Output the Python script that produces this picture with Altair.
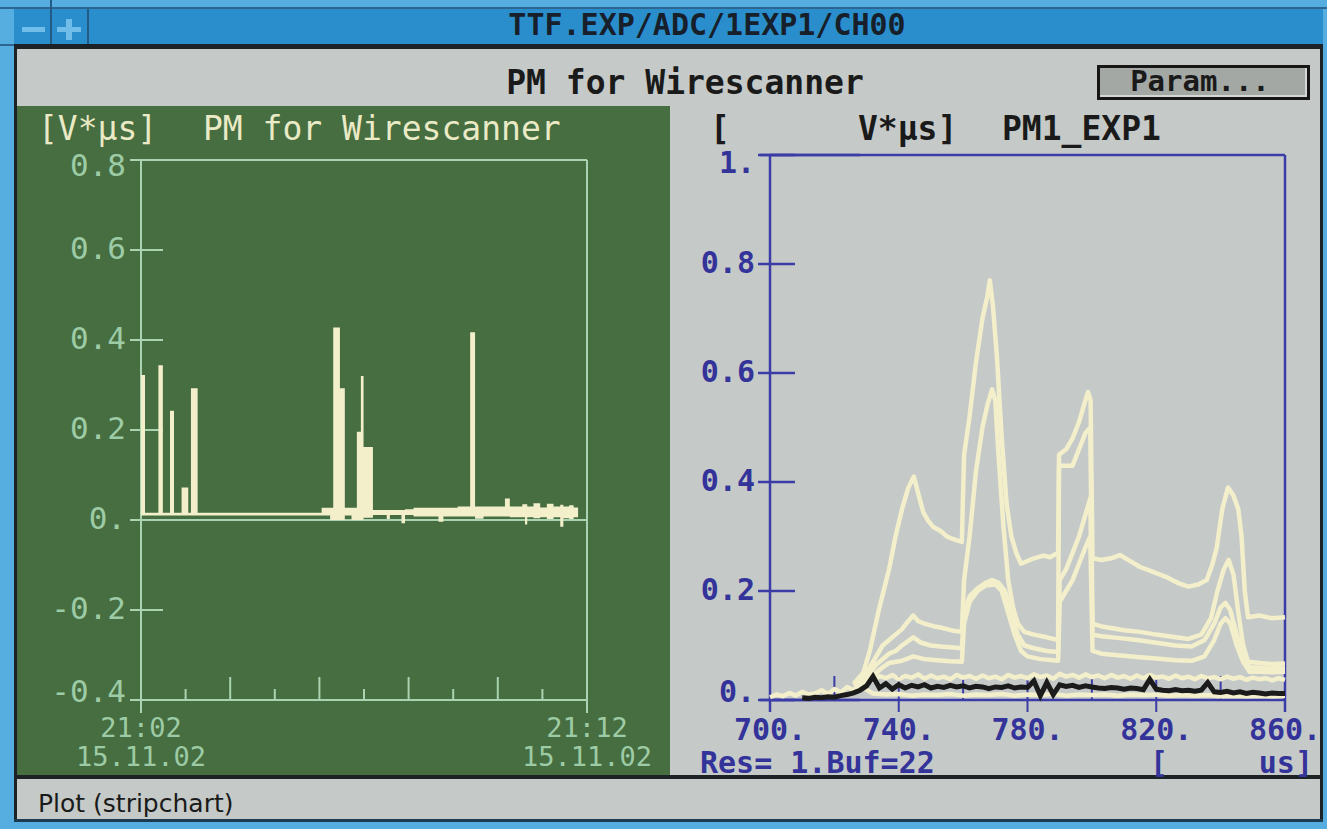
import altair as alt
import pandas as pd

# ---------------- left stripchart: minutes after 21:02, values in V*us ----------------
left_t = [0.00, 0.09, 0.39, 0.49, 0.65, 0.74, 0.91, 1.06, 1.12, 1.27,
          4.05, 4.24, 4.31, 4.46, 4.57, 4.72, 4.84, 4.93, 4.99, 5.20,
          5.51, 5.58, 5.84, 5.92, 6.11, 6.67, 6.78, 7.10, 7.38, 7.49,
          7.68, 8.16, 8.27, 8.55, 8.61, 8.66, 8.80, 8.95, 9.10, 9.25,
          9.40, 9.47, 9.60, 9.70, 9.80]
left_top = [0.322, 0.016, 0.344, 0.016, 0.243, 0.016, 0.072, 0.016, 0.293, 0.016,
            0.027, 0.027, 0.428, 0.293, 0.027, 0.027, 0.196, 0.320, 0.162, 0.022,
            0.022, 0.022, 0.022, 0.024, 0.027, 0.027, 0.027, 0.030, 0.417, 0.030,
            0.030, 0.048, 0.030, 0.035, 0.035, 0.030, 0.037, 0.028, 0.036, 0.030,
            0.034, 0.030, 0.033, 0.028, 0.028]
left_bottom = [0.010, 0.010, 0.010, 0.010, 0.010, 0.010, 0.010, 0.010, 0.010, 0.010,
               0.010, 0.000, 0.000, 0.000, 0.010, 0.000, 0.000, 0.000, 0.005, 0.011,
               0.002, 0.011, -0.007, 0.011, 0.008, -0.004, 0.008, 0.008, 0.008, 0.003,
               0.008, 0.008, 0.006, 0.006, -0.010, 0.006, 0.004, 0.006, 0.002, 0.006,
               -0.015, 0.004, 0.002, 0.006, 0.006]

left_y_ticks = [0.8, 0.6, 0.4, 0.2, 0.0, -0.2, -0.4]
left_y_labels = ["0.8", "0.6", "0.4", "0.2", "0.", "-0.2", "-0.4"]
left_minor_ticks = [1, 3, 5, 7, 9]
left_major_ticks = [2, 4, 6, 8]
left_x_ticks = [0, 10]
left_x_time = ["21:02", "21:12"]
left_x_date = ["15.11.02", "15.11.02"]

# ---------------- right plot: PM1_EXP1 traces (us, V*us) ----------------
tr1_us = [726, 729, 731, 734, 737, 739, 741, 743, 744.7, 746, 747.6, 749, 750.6, 753, 755, 757,
          759.6, 760.3, 762, 764, 766, 767.5, 768.3, 769.3, 770.5, 772, 773.5, 775, 776.5, 778,
          780, 782, 785, 787, 789.5, 789.8, 792, 794, 796, 798, 798.8, 799.6, 800.2, 803, 806,
          808.7, 811, 815, 819, 823, 827, 830, 833, 835.7, 837.5, 838.8, 840.5, 842.3, 844,
          845.5, 846.5, 847.5, 848.5, 852, 856, 860]
tr1_v = [0.030, 0.05, 0.09, 0.17, 0.24, 0.30, 0.35, 0.39, 0.41, 0.38, 0.345, 0.33, 0.318, 0.31,
         0.30, 0.295, 0.29, 0.45, 0.52, 0.62, 0.70, 0.74, 0.77, 0.72, 0.63, 0.48, 0.36, 0.30,
         0.27, 0.25, 0.255, 0.26, 0.265, 0.262, 0.27, 0.45, 0.46, 0.48, 0.51, 0.55, 0.565, 0.55,
         0.26, 0.257, 0.26, 0.266, 0.258, 0.244, 0.235, 0.226, 0.214, 0.208, 0.212, 0.22, 0.25,
         0.28, 0.35, 0.39, 0.375, 0.35, 0.30, 0.20, 0.152, 0.155, 0.15, 0.152]

tr2_us = [726, 729, 731, 733, 735, 737, 739, 741, 743, 744.5, 746, 748, 751, 753, 755, 757,
          759.6, 760.3, 762, 764, 766, 767.5, 769, 770, 771, 772.5, 774, 775.5, 777, 779, 782,
          786, 789.5, 789.8, 791, 794, 796, 798, 799.5, 800.2, 803, 806, 810, 815, 820, 825,
          830, 834, 837, 839, 841, 842.5, 844, 845.5, 847, 848.5, 852, 856, 860]
tr2_v = [0.028, 0.04, 0.06, 0.08, 0.10, 0.11, 0.12, 0.13, 0.145, 0.155, 0.145, 0.14, 0.135,
         0.133, 0.13, 0.127, 0.125, 0.22, 0.30, 0.42, 0.50, 0.54, 0.57, 0.55, 0.45, 0.32, 0.22,
         0.17, 0.14, 0.125, 0.12, 0.115, 0.11, 0.43, 0.43, 0.43, 0.46, 0.49, 0.50, 0.14, 0.135,
         0.132, 0.128, 0.125, 0.12, 0.116, 0.112, 0.12, 0.15, 0.20, 0.24, 0.257, 0.23, 0.16,
         0.10, 0.07, 0.068, 0.066, 0.067]

tr3_us = [726, 729, 731, 733, 735, 737, 739, 741, 744.5, 747, 750, 753, 756, 759.6, 760.3, 762,
          764.5, 767, 769, 771, 773, 775, 777, 779, 782, 786, 789.5, 790, 792, 794, 796, 798,
          799.5, 800.2, 803, 808, 814, 820, 826, 831, 835, 838, 840, 841.5, 843, 845, 847, 849,
          852, 856, 860]
tr3_v = [0.027, 0.035, 0.05, 0.065, 0.075, 0.085, 0.09, 0.10, 0.115, 0.105, 0.10, 0.098, 0.097,
         0.095, 0.16, 0.19, 0.205, 0.215, 0.22, 0.215, 0.20, 0.16, 0.12, 0.10, 0.095, 0.09,
         0.088, 0.22, 0.24, 0.27, 0.30, 0.34, 0.37, 0.12, 0.117, 0.114, 0.11, 0.105, 0.10,
         0.098, 0.11, 0.14, 0.17, 0.178, 0.165, 0.12, 0.08, 0.06, 0.059, 0.058, 0.059]

tr4_us = [726, 729, 731, 733, 735, 737, 741, 744.5, 748, 752, 756, 759.6, 760.3, 762, 764.5,
          767, 770, 772, 774, 776, 778, 780, 784, 789.5, 790, 792, 794, 796, 798, 799.5, 800.2,
          803, 808, 814, 820, 826, 831, 835, 838, 840, 841.5, 843, 845, 847, 849, 852, 856, 860]
tr4_v = [0.026, 0.03, 0.04, 0.05, 0.06, 0.068, 0.072, 0.08, 0.075, 0.073, 0.071, 0.07, 0.14,
         0.18, 0.20, 0.21, 0.212, 0.20, 0.16, 0.12, 0.09, 0.08, 0.075, 0.072, 0.18, 0.20, 0.22,
         0.25, 0.28, 0.30, 0.09, 0.085, 0.082, 0.079, 0.076, 0.073, 0.072, 0.08, 0.11, 0.14,
         0.15, 0.14, 0.10, 0.07, 0.052, 0.052, 0.051, 0.052]

tr5_us = list(range(726, 861, 2))
tr5_v = [0.030, 0.034, 0.040, 0.036, 0.044, 0.040, 0.046, 0.038, 0.044, 0.041, 0.047, 0.039,
         0.045, 0.040, 0.043, 0.038, 0.046, 0.041, 0.044, 0.039, 0.045, 0.040, 0.043, 0.038,
         0.046, 0.041, 0.044, 0.040, 0.047, 0.042, 0.045, 0.039, 0.048, 0.043, 0.046, 0.041,
         0.047, 0.042, 0.045, 0.040, 0.046, 0.041, 0.044, 0.039, 0.045, 0.040, 0.046, 0.041,
         0.043, 0.039, 0.045, 0.040, 0.043, 0.038, 0.044, 0.040, 0.042, 0.038, 0.043, 0.039,
         0.042, 0.037, 0.041, 0.038, 0.040, 0.036, 0.040, 0.037]

tr6_us = list(range(700, 729, 2)) + list(range(732, 861, 4))
tr6_v = [0.005, 0.010, 0.007, 0.013, 0.008, 0.015, 0.010, 0.012, 0.018, 0.011, 0.020, 0.014,
         0.024, 0.018, 0.026,
         0.012, 0.010, 0.011, 0.008, 0.010, 0.009, 0.011, 0.008, 0.010, 0.009, 0.011, 0.008,
         0.010, 0.009, 0.011, 0.008, 0.010, 0.009, 0.010, 0.008, 0.010, 0.009, 0.010, 0.008,
         0.009, 0.008, 0.009, 0.007, 0.008, 0.007, 0.008, 0.007, 0.008]

black_us = list(range(710, 861, 2))
black_v = [0.004, 0.003, 0.005, 0.004, 0.006, 0.005, 0.008, 0.010, 0.013, 0.018, 0.026, 0.043,
           0.022, 0.030, 0.020, 0.028, 0.022, 0.027, 0.024, 0.028, 0.022, 0.025, 0.023, 0.027,
           0.024, 0.026, 0.022, 0.025, 0.024, 0.021, 0.024, 0.023, 0.026, 0.022, 0.024, 0.023,
           0.035, 0.008, 0.032, 0.010, 0.028, 0.025, 0.027, 0.023, 0.026, 0.024, 0.022, 0.021,
           0.023, 0.022, 0.020, 0.022, 0.021, 0.019, 0.038, 0.020, 0.018, 0.017, 0.019, 0.017,
           0.018, 0.016, 0.018, 0.032, 0.015, 0.014, 0.016, 0.013, 0.015, 0.012, 0.014, 0.013,
           0.011, 0.013, 0.012, 0.012]

right_y_ticks = [0.0, 0.2, 0.4, 0.6, 0.8, 1.0]
right_y_labels = ["0.", "0.2", "0.4", "0.6", "0.8", "1."]
right_x_ticks = [700, 740, 780, 820, 860]
right_x_labels = ["700.", "740.", "780.", "820.", "860."]
right_up_ticks = [720, 740, 760, 780, 800, 820, 840]
right_down_ticks = [740, 780, 820]

# ---------------- tables ----------------
left_df = pd.DataFrame({"t": left_t, "top": left_top, "bottom": left_bottom})
ly_df = pd.DataFrame({"v": left_y_ticks, "lab": left_y_labels})
lx_df = pd.DataFrame({"t": left_x_ticks, "time": left_x_time, "date": left_x_date})
rows = []
for name, xs, vs in [("T6", tr6_us, tr6_v), ("T5", tr5_us, tr5_v), ("T4", tr4_us, tr4_v),
                     ("T3", tr3_us, tr3_v), ("T2", tr2_us, tr2_v), ("T1", tr1_us, tr1_v)]:
    for x, v in zip(xs, vs):
        rows.append({"trace": name, "us": x, "v": v})
cream_df = pd.DataFrame(rows)
black_df = pd.DataFrame({"us": black_us, "v": black_v})
ry_df = pd.DataFrame({"v": right_y_ticks, "lab": right_y_labels})
rx_df = pd.DataFrame({"us": right_x_ticks, "lab": right_x_labels})

# ---------------- styles ----------------
W, H = 1327, 829
CREAM = "#f3efcb"
GREEN = "#466e41"
GLINE = "#a9d3b1"
GTEXT = "#9dcba5"
GTITLE = "#ebeac6"
BODY = "#c5cac8"
BLUE_AX = "#3c3ca6"
BLUE_TX = "#33339a"
DARK = "#1d2226"
MONO = "DejaVu Sans Mono"

lxs = alt.Scale(domain=[0, 10], range=[141, 587], nice=False, zero=False)
lys = alt.Scale(domain=[-0.4, 0.8], range=[700, 160], nice=False, zero=False)
rxs = alt.Scale(domain=[700, 860], range=[770, 1285], nice=False, zero=False)
rys = alt.Scale(domain=[0, 1], range=[700, 155], nice=False, zero=False)


def LX(f):
    return alt.X(f, type="quantitative", scale=lxs, axis=None)


def LY(f):
    return alt.Y(f, type="quantitative", scale=lys, axis=None)


def RX(f):
    return alt.X(f, type="quantitative", scale=rxs, axis=None)


def RY(f):
    return alt.Y(f, type="quantitative", scale=rys, axis=None)


def box(x1, x2, y1, y2, color):
    return alt.Chart().mark_rect(color=color).encode(
        x=alt.value(x1), x2=alt.value(x2), y=alt.value(y1), y2=alt.value(y2))


def label(txt, x, y, size, color, weight="normal", align="left", font=MONO):
    return alt.Chart().mark_text(text=txt, font=font, fontSize=size, fontWeight=weight,
                                 color=color, align=align, baseline="middle").encode(
        x=alt.value(x), y=alt.value(y))


layers = []
# ---- window chrome ----
layers += [
    box(0, W, 7, 9, "#2c6590"),
    box(14, 1323, 9, 45, "#2a8ecd"),
    box(50, 52, 0, 45, "#245b85"),
    box(87, 89, 9, 45, "#245b85"),
    box(22, 45, 27, 32, "#6fbde8"),
    box(57, 81, 27, 32, "#6fbde8"),
    box(66, 72, 19, 40, "#6fbde8"),
    box(0, 14, 44, 46, "#2c6590"),
    box(14, 1323, 44, 49, DARK),
    box(14, 17, 44, 822, DARK),
    box(1320, 1323, 44, 822, DARK),
    box(17, 1320, 49, 819, BODY),
    box(14, 1323, 819, 822, "#1d3a50"),
    box(17, 670, 106, 776, GREEN),
    box(17, 1320, 775, 779, DARK),
    box(1097, 1310, 65, 100, "#161616"),
    box(1100, 1307, 68, 97, "#d4d8d4"),
    box(1100, 1305, 68, 95, "#a3a8a5"),
    label("TTF.EXP/ADC/1EXP1/CH00", 707, 26, 30, "#17202a", "bold", "center"),
    label("PM for Wirescanner", 685, 84, 33, "#1a1a1a", "bold", "center"),
    label("Param...", 1200, 82, 29, "#1a1a1a", "bold", "center"),
    label("Plot (stripchart)", 38, 804, 25, "#1a1a1a", "normal", "left", "DejaVu Sans"),
]

# ---- left stripchart panel ----
layers += [
    label("[V*\u00b5s]", 38, 130, 33, GTITLE),
    label("PM for Wirescanner", 203, 130, 33, GTITLE),
    alt.Chart(pd.DataFrame({"v": [0.8, 0.0, -0.4]})).mark_rule(color=GLINE, strokeWidth=2).encode(
        x=alt.X(datum=0, type="quantitative", scale=lxs, axis=None), x2=alt.X2(datum=10), y=LY("v")),
    alt.Chart(pd.DataFrame({"t": left_x_ticks})).mark_rule(color=GLINE, strokeWidth=2).encode(
        x=LX("t"), y=alt.Y(datum=0.8, type="quantitative", scale=lys, axis=None), y2=alt.value(713)),
    alt.Chart(ly_df).mark_rule(color=GLINE, strokeWidth=2).encode(
        x=alt.value(130), x2=alt.value(163), y=LY("v")),
    alt.Chart(pd.DataFrame({"t": left_minor_ticks})).mark_rule(color=GLINE, strokeWidth=2).encode(
        x=LX("t"), y=alt.value(700), y2=alt.value(689)),
    alt.Chart(pd.DataFrame({"t": left_major_ticks})).mark_rule(color=GLINE, strokeWidth=2).encode(
        x=LX("t"), y=alt.value(700), y2=alt.value(677)),
    alt.Chart(left_df).mark_area(interpolate="step-after", color=CREAM).encode(
        x=LX("t"), y=LY("top"), y2="bottom"),
    alt.Chart(ly_df).transform_filter("datum.v < 0.7 && datum.v > -0.3").mark_text(
        font=MONO, fontSize=31, color=GTEXT, align="right", baseline="middle").encode(
        x=alt.value(126), y=LY("v"), text="lab:N"),
    alt.Chart(ly_df).transform_filter("datum.v > 0.7").mark_text(
        font=MONO, fontSize=31, color=GTEXT, align="right", baseline="middle", dy=7).encode(
        x=alt.value(126), y=LY("v"), text="lab:N"),
    alt.Chart(ly_df).transform_filter("datum.v < -0.3").mark_text(
        font=MONO, fontSize=31, color=GTEXT, align="right", baseline="middle", dy=-7).encode(
        x=alt.value(126), y=LY("v"), text="lab:N"),
    alt.Chart(lx_df).mark_text(font=MONO, fontSize=27, color=GTEXT, align="center",
                               baseline="middle").encode(
        x=LX("t"), y=alt.value(729), text="time:N"),
    alt.Chart(lx_df).mark_text(font=MONO, fontSize=27, color=GTEXT, align="center",
                               baseline="middle").encode(
        x=LX("t"), y=alt.value(758), text="date:N"),
]

# ---- right plot panel ----
layers += [
    label("[", 710, 130, 33, "#1a1a1a", "bold"),
    label("V*\u00b5s]", 858, 130, 33, "#1a1a1a", "bold"),
    label("PM1_EXP1", 1002, 130, 33, "#1a1a1a", "bold"),
    alt.Chart(pd.DataFrame({"us": right_up_ticks})).mark_rule(color=BLUE_AX, strokeWidth=2).encode(
        x=RX("us"), y=alt.value(700), y2=alt.value(676)),
    alt.Chart(pd.DataFrame({"us": right_down_ticks})).mark_rule(color=BLUE_AX, strokeWidth=2).encode(
        x=RX("us"), y=alt.value(700), y2=alt.value(712)),
    alt.Chart(pd.DataFrame({"v": [1.0, 0.0]})).mark_rule(color=BLUE_AX, strokeWidth=2.5).encode(
        x=alt.value(760), x2=alt.X2(datum=860), y=RY("v")),
    alt.Chart(pd.DataFrame({"v": [1.0, 0.0]})).mark_rule(color=BLUE_AX, strokeWidth=2.5).encode(
        x=alt.X(datum=700, type="quantitative", scale=rxs, axis=None), x2=alt.X2(datum=860), y=RY("v")),
    alt.Chart(pd.DataFrame({"us": [700, 860]})).mark_rule(color=BLUE_AX, strokeWidth=2.5).encode(
        x=RX("us"), y=alt.Y(datum=1.0, type="quantitative", scale=rys, axis=None), y2=alt.value(712)),
    alt.Chart(ry_df).mark_rule(color=BLUE_AX, strokeWidth=2.5).encode(
        x=alt.value(758), x2=alt.value(795), y=RY("v")),
    alt.Chart(cream_df).mark_line(color=CREAM, strokeWidth=4.5, strokeJoin="round").encode(
        x=RX("us"), y=RY("v"), detail="trace:N"),
    alt.Chart(black_df).mark_line(color="#1b1b1b", strokeWidth=5).encode(
        x=RX("us"), y=RY("v")),
    alt.Chart(ry_df).transform_filter("datum.v > 0.1 && datum.v < 0.9").mark_text(
        font=MONO, fontSize=30, fontWeight="bold", color=BLUE_TX, align="right",
        baseline="middle").encode(x=alt.value(755), y=RY("v"), text="lab:N"),
    alt.Chart(ry_df).transform_filter("datum.v > 0.9").mark_text(
        font=MONO, fontSize=30, fontWeight="bold", color=BLUE_TX, align="right",
        baseline="middle", dy=9).encode(x=alt.value(755), y=RY("v"), text="lab:N"),
    alt.Chart(ry_df).transform_filter("datum.v < 0.1").mark_text(
        font=MONO, fontSize=30, fontWeight="bold", color=BLUE_TX, align="right",
        baseline="middle", dy=-7).encode(x=alt.value(755), y=RY("v"), text="lab:N"),
    alt.Chart(rx_df).mark_text(font=MONO, fontSize=30, fontWeight="bold", color=BLUE_TX,
                               align="center", baseline="middle").encode(
        x=RX("us"), y=alt.value(731), text="lab:N"),
    label("Res= 1.Buf=22", 700, 764, 30, BLUE_TX, "bold"),
    label("[", 1150, 764, 30, BLUE_TX, "bold"),
    label("us]", 1313, 764, 30, BLUE_TX, "bold", "right"),
]

chart = alt.layer(*layers).resolve_scale(
    x="independent", y="independent"
).properties(
    width=W, height=H, padding=0,
    autosize=alt.AutoSizeParams(type="none"),
    background="#55ade0",
).configure_view(stroke=None)

chart.save("out.html", embed_options={"renderer": "svg", "actions": False})
